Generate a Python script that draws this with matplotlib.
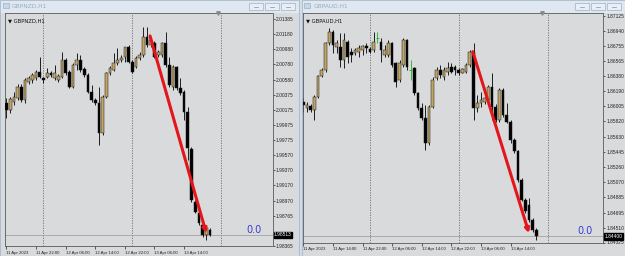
import matplotlib
matplotlib.use('Agg')
import matplotlib.pyplot as plt
from matplotlib.patches import Rectangle

W, H = 625, 256
BG = '#d9dadc'
BULL = '#c2a566'
BEAR = '#000000'

# GBPNZD H1, 11 Apr 14:00 -> 13 Apr 21:00
nzd_open = [2.00264, 2.00175, 2.00285, 2.00331, 2.00485, 2.00308, 2.00551, 2.00574, 2.00597, 2.00684,
            2.00597, 2.00618, 2.00663, 2.00597, 2.00574, 2.00618, 2.00840, 2.00684, 2.00485, 2.00774,
            2.00840, 2.00717, 2.00641, 2.00418, 2.00308, 2.00264, 1.99865, 2.00352, 2.00663, 2.00707,
            2.00796, 2.00840, 2.00876, 2.01017, 2.00817, 2.00751, 2.00863, 2.00907, 2.01150, 2.01040,
            2.01062, 2.00907, 2.00907, 2.01062, 2.00774, 2.00485, 2.00751, 2.00464, 2.00418, 2.00152,
            1.99656, 1.98955, 1.98801, 1.98646, 1.98513, 1.98579]
nzd_high = [2.00331, 2.00348, 2.00414, 2.00521, 2.00521, 2.00601, 2.00627, 2.00663, 2.00707, 2.00884,
            2.00614, 2.00730, 2.00694, 2.00774, 2.00654, 2.00950, 2.00867, 2.00707, 2.00800, 2.00929,
            2.00907, 2.00747, 2.00667, 2.00508, 2.00335, 2.00485, 2.00374, 2.00680, 2.00760, 2.00929,
            2.00996, 2.00907, 2.01013, 2.01040, 2.00840, 2.00893, 2.00946, 2.01283, 2.01283, 2.01150,
            2.01093, 2.00973, 2.01079, 2.01216, 2.00884, 2.00774, 2.00760, 2.00597, 2.00441, 2.00219,
            1.99680, 1.98978, 1.98832, 1.98672, 1.98623, 1.98606]
nzd_low = [2.00065, 2.00131, 2.00242, 2.00308, 2.00281, 2.00264, 2.00521, 2.00530, 2.00574, 2.00597,
           2.00534, 2.00597, 2.00614, 2.00574, 2.00547, 2.00597, 2.00641, 2.00468, 2.00468, 2.00707,
           2.00684, 2.00614, 2.00401, 2.00285, 2.00242, 1.99710, 1.99843, 2.00335, 2.00641, 2.00694,
           2.00774, 2.00813, 2.00817, 2.00796, 2.00667, 2.00734, 2.00840, 2.00884, 2.01017, 2.01013,
           2.00867, 2.00876, 2.00876, 2.00751, 2.00481, 2.00441, 2.00441, 2.00374, 2.00042, 1.99510,
           1.98951, 1.98801, 1.98646, 1.98486, 1.98446, 1.98499]
nzd_close = [2.00175, 2.00317, 2.00352, 2.00485, 2.00308, 2.00574, 2.00597, 2.00641, 2.00684, 2.00618,
             2.00574, 2.00663, 2.00641, 2.00663, 2.00627, 2.00840, 2.00663, 2.00485, 2.00774, 2.00840,
             2.00707, 2.00641, 2.00418, 2.00308, 2.00264, 1.99865, 2.00352, 2.00663, 2.00730, 2.00796,
             2.00840, 2.00863, 2.01009, 2.00817, 2.00684, 2.00863, 2.00907, 2.01150, 2.01040, 2.01106,
             2.00884, 2.00950, 2.01062, 2.00774, 2.00508, 2.00751, 2.00464, 2.00397, 2.00152, 1.99666,
             1.98978, 1.98822, 1.98668, 1.98513, 1.98602, 1.98513]
nzd_yticks = [2.01385, 2.01180, 2.00980, 2.00780, 2.00580, 2.00375, 2.00175, 1.99975,
              1.99775, 1.99570, 1.99370, 1.99170, 1.98970, 1.98765, 1.98365]
nzd_xlabels = ['11 Apr 2023', '11 Apr 22:00', '12 Apr 06:00', '12 Apr 14:00',
               '12 Apr 22:00', '13 Apr 06:00', '13 Apr 14:00']
nzd_xpos = [0, 8, 16, 24, 32, 40, 48]
nzd_days = [10, 34, 58]

# GBPAUD H1, 11 Apr 06:00 -> 13 Apr 21:00
aud_open = [1.86065, 1.85987, 1.86012, 1.85963, 1.86127, 1.86382, 1.86456, 1.86785, 1.86928, 1.86743,
            1.86743, 1.86579, 1.86805, 1.86682, 1.86662, 1.86682, 1.86703, 1.86752, 1.86711, 1.86703,
            1.86847, 1.86805, 1.86641, 1.86641, 1.86785, 1.86539, 1.86333, 1.86518, 1.86826, 1.86456,
            1.86477, 1.86169, 1.85984, 1.85860, 1.85552, 1.86003, 1.86354, 1.86456, 1.86373, 1.86435,
            1.86497, 1.86497, 1.86456, 1.86423, 1.86435, 1.86518, 1.86682, 1.85984, 1.86045, 1.86065,
            1.86086, 1.86250, 1.86003, 1.85839, 1.86209, 1.85901, 1.85818, 1.85593, 1.85449, 1.85100,
            1.84853, 1.84791, 1.84606, 1.84483]
aud_high = [1.86111, 1.86065, 1.86036, 1.86148, 1.86394, 1.86477, 1.86805, 1.86970, 1.86949, 1.86826,
            1.86908, 1.86908, 1.86826, 1.86724, 1.86724, 1.86764, 1.86764, 1.86785, 1.86743, 1.86928,
            1.86928, 1.86847, 1.86764, 1.86826, 1.86805, 1.86558, 1.86579, 1.86847, 1.86840, 1.86579,
            1.86497, 1.86188, 1.86045, 1.86024, 1.86024, 1.86373, 1.86497, 1.86518, 1.86497, 1.86558,
            1.86539, 1.86518, 1.86477, 1.86477, 1.86539, 1.86703, 1.86792, 1.86148, 1.86188, 1.86127,
            1.86271, 1.86415, 1.86036, 1.86230, 1.86234, 1.86045, 1.85839, 1.85617, 1.85470, 1.85124,
            1.84878, 1.84878, 1.84631, 1.84508]
aud_low = [1.85938, 1.85942, 1.85938, 1.85839, 1.86107, 1.86373, 1.86435, 1.86764, 1.86662, 1.86662,
           1.86497, 1.86477, 1.86539, 1.86558, 1.86641, 1.86620, 1.86641, 1.86662, 1.86662, 1.86682,
           1.86785, 1.86558, 1.86620, 1.86620, 1.86497, 1.86250, 1.86312, 1.86497, 1.86456, 1.86333,
           1.86148, 1.85963, 1.85839, 1.85470, 1.85531, 1.85984, 1.86333, 1.86354, 1.86333, 1.86394,
           1.86415, 1.86394, 1.86394, 1.86415, 1.86415, 1.86497, 1.85839, 1.85942, 1.86003, 1.86036,
           1.86065, 1.85839, 1.85818, 1.85818, 1.85876, 1.85799, 1.85552, 1.85429, 1.85075, 1.84832,
           1.84693, 1.84582, 1.84458, 1.84360]
aud_close = [1.86024, 1.86024, 1.85963, 1.86127, 1.86382, 1.86456, 1.86789, 1.86928, 1.86764, 1.86785,
             1.86579, 1.86826, 1.86620, 1.86641, 1.86703, 1.86724, 1.86752, 1.86724, 1.86682, 1.86805,
             1.86847, 1.86703, 1.86703, 1.86785, 1.86518, 1.86312, 1.86539, 1.86826, 1.86497, 1.86456,
             1.86169, 1.85984, 1.85860, 1.85552, 1.86003, 1.86333, 1.86456, 1.86394, 1.86456, 1.86477,
             1.86435, 1.86456, 1.86415, 1.86464, 1.86518, 1.86682, 1.85984, 1.86045, 1.86086, 1.86107,
             1.86250, 1.86003, 1.85839, 1.86209, 1.85901, 1.85818, 1.85593, 1.85449, 1.85100, 1.84853,
             1.84709, 1.84606, 1.84483, 1.84400]
aud_yticks = [1.87125, 1.86940, 1.86755, 1.86565, 1.86380, 1.86190, 1.86005, 1.85820,
              1.85630, 1.85445, 1.85260, 1.85070, 1.84885, 1.84695, 1.84510, 1.84325]
aud_xlabels = ['11 Apr 2023', '11 Apr 14:00', '11 Apr 22:00', '12 Apr 06:00', '12 Apr 14:00',
               '12 Apr 22:00', '13 Apr 06:00', '13 Apr 14:00']
aud_xpos = [0, 8, 16, 24, 32, 40, 48, 56]
aud_days = [18, 42, 66]

YFS = 3.5   # price scale font size
XFS = 3.1   # time scale font size


def px_axes(fig, x0, y0, x1, y1):
    return fig.add_axes([x0 / W, 1 - y1 / H, (x1 - x0) / W, (y1 - y0) / H])


def window(bg, x0, x1, title):
    # title bar + buttons
    bg.add_patch(Rectangle((x0, 0), x1 - x0, 11.5, color='#dfe8f1', zorder=1))
    bg.add_patch(Rectangle((x0, 0), x1 - x0, 256, fill=False, ec='#a9b8c8', lw=0.6, zorder=2))
    bg.add_patch(Rectangle((x0 + 2.5, 3), 6, 5, fc='#c6d6e6', ec='#8fa8c0', lw=0.4, zorder=2))
    bg.text(x0 + 12, 6, title, fontsize=4.2, color='#9aabbd', va='center', ha='left', zorder=3)
    for bx in [x1 - 50, x1 - 34, x1 - 18]:
        bg.add_patch(Rectangle((bx, 2.5), 14, 7.5, fc='#e8eef5', ec='#9fb1c4', lw=0.5, zorder=2))
        bg.plot([bx + 5, bx + 9], [6.5, 6.5], color='#7f90a4', lw=0.5, zorder=3)


def panel(ax, o, h, l, c, yticks, ylim, xlim, xlabels, xpos, days, arrow, name, shift_x, bid_right):
    ax.set_facecolor(BG)
    ax.set_xlim(*xlim)
    ax.set_ylim(*ylim)
    for s in ax.spines.values():
        s.set_color('#5a5a5a')
        s.set_linewidth(0.6)

    for d in days:
        ax.axvline(d, color='#6f6f6f', lw=0.6, ls=(0, (1.5, 1.5)), zorder=1)
    ax.axhline(c[-1], color='#a3a3a3', lw=0.6, zorder=1)

    for i in range(len(o)):
        if c[i] == o[i]:
            ax.vlines(i, l[i], h[i], color='#22b022', lw=0.6, zorder=3)
            ax.hlines(c[i], i - 0.35, i + 0.35, color='#22b022', lw=0.6, zorder=3)
            continue
        ax.vlines(i, l[i], h[i], color='#000000', lw=0.6, zorder=2)
        lo, hi = min(o[i], c[i]), max(o[i], c[i])
        ax.bar(i, hi - lo, bottom=lo, width=0.72,
               color=BULL if c[i] > o[i] else BEAR, edgecolor='#1a1a1a', linewidth=0.35, zorder=3)

    ax.annotate('', xy=arrow[1], xytext=arrow[0],
                arrowprops=dict(arrowstyle='-|>', color='#e3161b', lw=2.2,
                                mutation_scale=6, shrinkA=0, shrinkB=0), zorder=5)

    ax.yaxis.tick_right()
    ax.set_yticks(yticks)
    ax.set_yticklabels([f'{v:.5f}' for v in yticks], fontsize=YFS, family='Liberation Sans')
    ax.tick_params(axis='y', length=1.5, width=0.5, pad=0.8, colors='#222222')
    ax.set_xticks(xpos)
    ax.set_xticklabels(xlabels, fontsize=XFS, family='Liberation Sans', ha='left')
    ax.tick_params(axis='x', length=2, width=0.5, pad=1.5, colors='#222222')

    ax.text(0.013, 0.975, '\u25bc ' + name, transform=ax.transAxes, fontsize=3.8,
            va='top', ha='left', color='#111111')
    ax.plot([shift_x], [ylim[1]], marker='v', ms=2.5, color='#8a8a8a', clip_on=False, zorder=6)
    ax.text(bid_right, c[-1], '0.0', fontsize=7, color='#3b3bd0', ha='right', va='bottom',
            transform=ax.get_yaxis_transform())
    ax.text(1.006, c[-1], f'{c[-1]:.5f}', fontsize=YFS, family='Liberation Sans', color='white',
            ha='left', va='center', transform=ax.get_yaxis_transform(), clip_on=False,
            bbox=dict(boxstyle='square,pad=0.12', fc='black', ec='black'), zorder=7)


fig = plt.figure(figsize=(W / 100, H / 100), dpi=100)
fig.patch.set_facecolor(BG)
bg = fig.add_axes([0, 0, 1, 1])
bg.set_xlim(0, W)
bg.set_ylim(H, 0)
bg.axis('off')
bg.add_patch(Rectangle((298, 0), 4, H, color='#cfdbe7', zorder=1))
window(bg, 0, 298.5, 'GBPNZD,H1')
window(bg, 301.5, 625, 'GBPAUD,H1')

ax1 = px_axes(fig, 5, 13, 272.5, 246)
panel(ax1, nzd_open, nzd_high, nzd_low, nzd_close, nzd_yticks, (1.98365, 2.01465), (-0.4, 71.9),
      nzd_xlabels, nzd_xpos, nzd_days, ((38.8, 2.01160), (54.0, 1.98535)), 'GBPNZD,H1', 57.2, 0.96)

ax2 = px_axes(fig, 302.5, 13, 603, 242.5)
panel(ax2, aud_open, aud_high, aud_low, aud_close, aud_yticks, (1.84325, 1.87159), (-0.22, 81.0),
      aud_xlabels, aud_xpos, aud_days, ((45.8, 1.86682), (61.0, 1.84440)), 'GBPAUD,H1', 64.5, 0.965)

fig.savefig('out.png', dpi=100, facecolor=fig.get_facecolor())
